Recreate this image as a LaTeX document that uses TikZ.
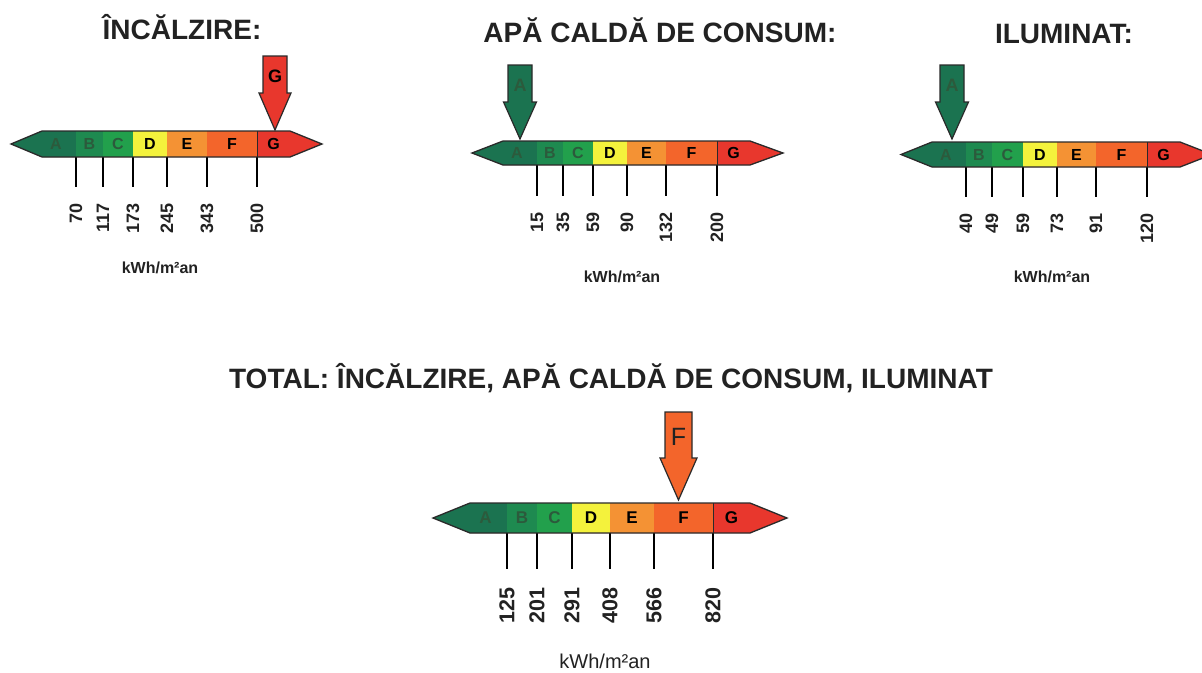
\documentclass[tikz,border=0pt]{standalone}
\usepackage{fontspec}
\setmainfont{Liberation Sans}
\definecolor{seg1}{HTML}{1B7350}
\definecolor{seg2}{HTML}{1E8A50}
\definecolor{seg3}{HTML}{22A04C}
\definecolor{seg4}{HTML}{F4F23C}
\definecolor{seg5}{HTML}{F49234}
\definecolor{seg6}{HTML}{F3652B}
\definecolor{seg7}{HTML}{E8372D}
\definecolor{dkl}{HTML}{2C5A3C}
\definecolor{ink}{HTML}{222222}
\definecolor{edge}{HTML}{2A2A2A}
\tikzset{
  segl/.style={font=\bfseries\fontsize{16}{16}\selectfont, inner sep=0pt},
  num/.style={font=\bfseries\fontsize{18}{18}\selectfont, rotate=90, anchor=east, inner sep=0pt, text=ink},
  divl/.style={draw=edge, line width=1pt},
  tickl/.style={draw=black, line width=1.3pt},
  outl/.style={draw=edge, line width=1.3pt, line join=miter},
  ptr/.style={draw=edge, line width=1.2pt, line join=miter},
  ttl/.style={font=\bfseries\fontsize{28}{30}\selectfont, text=ink, anchor=base, inner sep=0pt},
  unitl/.style={font=\bfseries\fontsize{16}{16}\selectfont, text=ink, inner sep=0pt},
}
\def\numgap{16}
% #1 name, #2 ytop, #3 ybot, #4 xtip, #5 xbody, #6 list boundary/number, #7 xend, #8 xrtip, #9 tick bottom
\newcommand\ebar[9]{%
  \pgfmathsetmacro\ymid{(#2+#3)/2}%
  \fill[fill=seg7] (#4,\ymid) -- (#5,#2) -- (#7,#2) -- (#8,\ymid) -- (#7,#3) -- (#5,#3) -- cycle;
  \foreach \b/\n [count=\i, remember=\b as \prev (initially #5)] in {#6}{%
    \ifnum\i=1
      \fill[fill=seg1] (#4,\ymid) -- (#5,#2) -- (\b,#2) -- (\b,#3) -- (#5,#3) -- cycle;
      \node[segl, text=dkl] (#1-l1) at ({(#5+\b)/2-3},\ymid) {A};
    \else
      \ifnum\i<4 \def\tc{dkl}\else\def\tc{black}\fi
      \fill[fill=seg\i] (\prev,#2) rectangle (\b,#3);
      \node[segl, text=\tc] (#1-l\i) at ({(\prev+\b)/2},\ymid) {\ifcase\i\or A\or B\or C\or D\or E\or F\fi};
    \fi
    \ifnum\i=6
      \node[segl, text=black] (#1-l7) at ({(\b+#7)/2},\ymid) {G};
    \fi
    \draw[divl] (\b,#2) -- (\b,#3);
    \draw[tickl] (\b,#3) -- (\b,#9);
    \node[num] (#1-n\i) at (\b,{#9+\numgap}) {\n};
  }
  \draw[outl] (#4,\ymid) -- (#5,#2) -- (#7,#2) -- (#8,\ymid) -- (#7,#3) -- (#5,#3) -- cycle;
}
% #1 name, #2 xc, #3 ytop, #4 yshaft, #5 ytip, #6 half shaft, #7 half head, #8 colour, #9 letter
\newcommand\pointer[9]{%
  \draw[ptr, fill=#8] ({#2-#6},#3) -- ({#2+#6},#3) -- ({#2+#6},#4) -- ({#2+#7},#4)
     -- (#2,#5) -- ({#2-#7},#4) -- ({#2-#6},#4) -- cycle;
  \node[inner sep=0pt] (#1) at (#2,{(#3+#4)/2+2}) {#9};
}
\begin{document}
\begin{tikzpicture}[x=1pt,y=-1pt]
\useasboundingbox (0,0) rectangle (1202,672);
\fill[white] (0,0) rectangle (1202,672);

% titles
\node[ttl] (t1) at (182,39) {ÎNCĂLZIRE:};
\node[ttl] (t2) at (660,42) {APĂ CALDĂ DE CONSUM:};
\node[ttl] (t3) at (1064,43) {ILUMINAT:};
\node[ttl] (t4) at (611,388) {TOTAL: ÎNCĂLZIRE, APĂ CALDĂ DE CONSUM, ILUMINAT};

% scale 1
\ebar{s1}{131}{157}{11}{42}{76/70,103/117,133/173,167/245,207/343,257/500}{290}{322}{187}
\node[unitl] (u1) at (160,268) {kWh/m²an};
\pointer{p1}{275}{56}{93}{130}{12}{16}{seg7}{\bfseries\fontsize{18}{18}\selectfont G}

% scale 2
\ebar{s2}{141}{165}{472}{503}{537/15,563/35,593/59,627/90,666/132,717/200}{750}{783}{196}
\node[unitl] (u2) at (622,277) {kWh/m²an};
\pointer{p2}{520}{65}{102}{139}{12}{16.5}{seg1}{\bfseries\fontsize{18}{18}\selectfont\color{dkl}A}

% scale 3
\ebar{s3}{142}{167}{901}{932}{966/40,992/49,1023/59,1057/73,1096/91,1147/120}{1180}{1212}{197}
\node[unitl] (u3) at (1052,277) {kWh/m²an};
\pointer{p3}{952}{65}{102}{139}{12}{16.5}{seg1}{\bfseries\fontsize{18}{18}\selectfont\color{dkl}A}

% scale 4
\begin{scope}[segl/.append style={font=\bfseries\fontsize{17}{17}\selectfont},
              num/.append style={font=\bfseries\fontsize{21.5}{21.5}\selectfont}]
\def\numgap{18}
\ebar{s4}{503}{533}{433}{470}{507/125,537/201,572/291,610/408,654/566,713/820}{750}{787}{569}
\end{scope}
\node[unitl, font=\fontsize{20}{20}\selectfont] (u4) at (605,661) {kWh/m²an};
\pointer{p4}{678.5}{412}{458}{500}{13.5}{18.5}{seg6}{\fontsize{25}{25}\selectfont\color{ink}F}
\end{tikzpicture}
\end{document}
